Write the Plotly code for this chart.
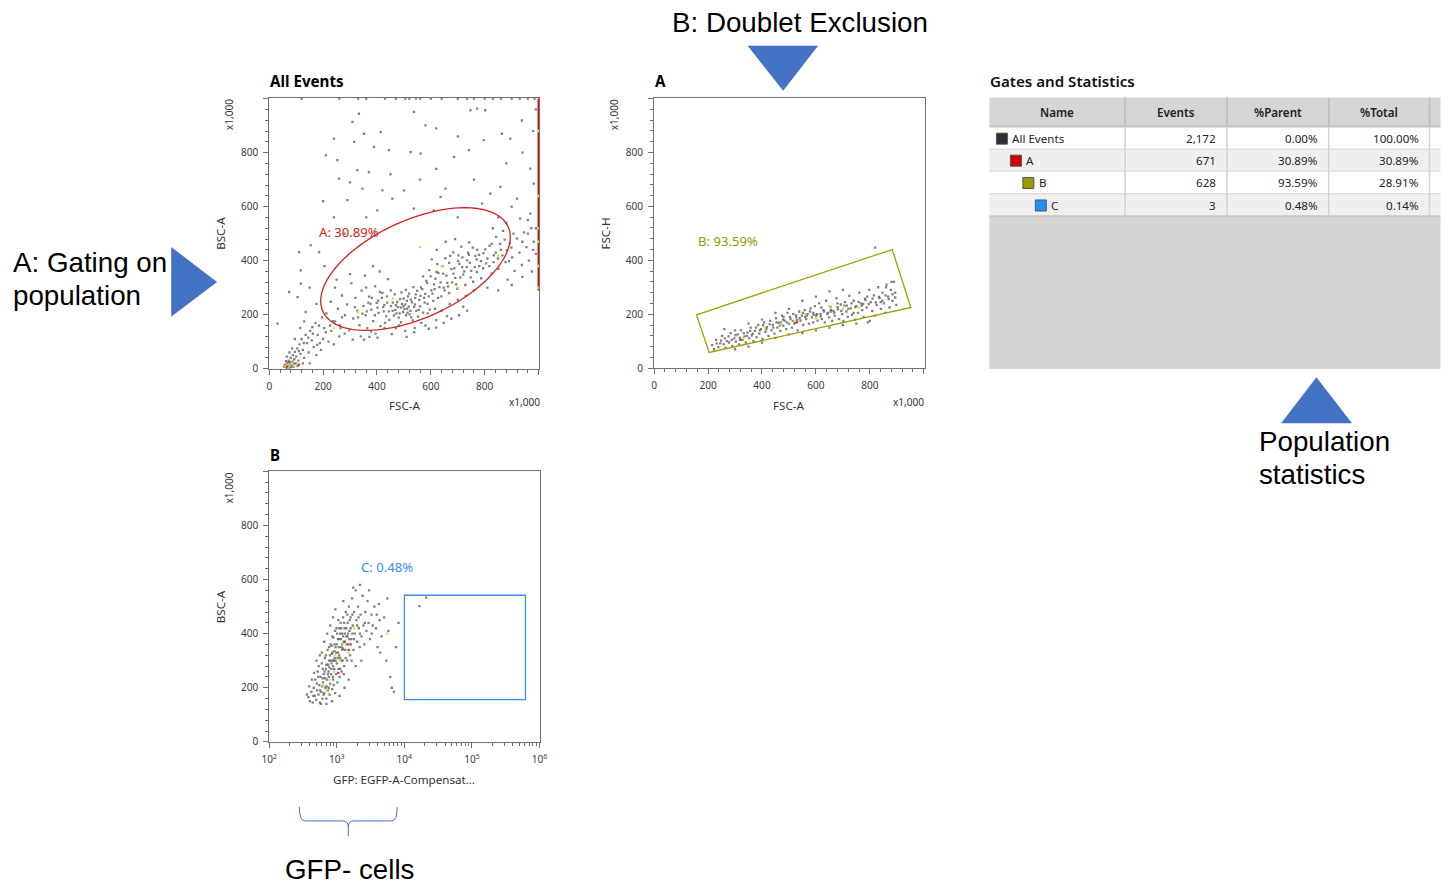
import math
import plotly.graph_objects as go

# ---------------- DATA ----------------
# All Events: FSC-A vs BSC-A (x1,000)
all_events_pts = [
    # origin debris cluster / trail
    (55,8),(60,15),(63,5),(68,22),(70,10),(72,30),(75,3),(78,18),(80,40),(83,12),(86,26),(88,50),
    (90,8),(93,35),(95,62),(98,20),(100,45),(104,75),(108,30),(112,90),(116,55),(120,110),(125,70),
    (130,40),(135,125),(140,95),(146,60),(152,140),(158,105),(165,80),(172,170),(180,125),(188,95),
    (196,190),(204,150),(150,20),(175,50),(200,110),(220,100),(240,90),(260,120),(125,20),(105,10),
    (65,45),(85,75),(115,150),(95,110),(130,175),(75,60),(62,28),(58,12),(66,3),(82,6),(92,18),
    (110,65),(128,95),(145,115),(162,130),(178,88),(192,70),(210,135),(226,160),(245,175),(265,150),
    # main cloud centre
    (452,232),(468,218),(475,247),(489,226),(497,210),(505,238),(512,222),(521,201),(530,246),(538,229),
    (546,214),(557,255),(463,197),(481,189),(499,260),(515,268),(527,190),(544,275),(560,231),(571,208),
    (438,245),(425,212),(446,181),(489,172),(508,198),(533,179),(552,193),(575,262),(588,240),(596,219),
    (470,235),(484,205),(493,240),(502,221),(518,230),(524,214),(541,238),(458,214),(478,228),(511,251),
    (362,212),(368,245),(381,262),(392,198),(404,252),(411,284),(423,228),(437,268),(444,212),(451,290),
    (459,245),(466,275),(472,205),(486,258),(491,283),(498,232),(507,292),(513,208),(519,278),(526,256),
    (535,302),(542,262),(549,288),(555,218),(562,270),(568,295),(577,245),(583,325),(592,268),(599,342),
    (606,278),(614,295),(621,358),(627,262),(636,320),(643,380),(651,290),(658,345),(664,305),(672,418),
    (679,320),(687,372),(694,312),(701,398),(709,338),(717,412),(724,360),(733,376),(741,422),(748,338),
    (756,448),(763,376),(771,358),(779,422),(786,398),(794,372),(802,442),(810,408),(817,380),(826,462),
    (833,395),(841,430),(849,408),(857,462),(866,420),(874,478),(882,438),(890,398),(899,448),(907,500),
    (352,108),(378,138),(402,115),(428,150),(455,128),(482,160),(510,118),(538,135),(565,170),(592,148),
    (620,152),(648,170),(676,185),(705,198),(735,215),
    # left part of cloud
    (212,205),(228,248),(236,176),(244,300),(255,222),(262,160),(270,271),(281,198),(289,238),(297,142),
    (305,316),(312,186),(320,262),(327,215),(335,161),(343,289),(350,232),(358,198),(364,150),(371,267),
    (379,219),(386,176),(393,305),(399,244),(406,207),(413,158),(420,281),(427,236),(434,194),(441,332),
    (395,130),(372,118),(340,120),(310,108),(280,130),(355,345),(300,350),(250,330),(230,140),(410,360),
    (385,380),(430,170),(360,300),(330,190),(270,190),(318,228),(346,204),(376,240),(402,226),(418,262),
    # mid-right part of cloud
    (563,301),(571,342),(579,277),(586,318),(594,365),(602,290),(609,251),(617,333),(624,387),(632,302),
    (639,268),(646,352),(654,409),(661,318),(668,280),(676,369),(683,431),(691,336),(698,296),(706,388),
    (713,452),(720,348),(728,310),(735,401),(742,468),(750,362),(757,322),(765,418),(772,440),(780,380),
    (787,335),(795,428),(603,405),(622,440),(655,470),(690,480),(588,205),(615,222),(640,215),(670,240),
    (700,255),(730,270),(760,290),(660,195),(620,180),(580,160),(540,150),(505,140),(470,150),(720,230),
    (612,312),(648,300),(684,352),(716,376),(745,392),(628,355),(668,392),(702,420),(738,430),(770,405),
    # right, beyond the gate
    (805,390),(818,455),(826,352),(834,420),(842,488),(851,370),(860,440),(868,510),(877,395),(885,330),
    (893,465),(902,412),(911,362),(920,482),(929,430),(938,384),(946,505),(955,450),(964,400),(973,520),
    (982,470),(990,425),(810,300),(850,290),(900,310),(940,340),(975,360),(880,540),(830,520),(960,550),
    # sparse upper region
    (309,914),(333,944),(352,870),(414,876),(240,852),(253,772),(315,840),(389,821),(327,735),(210,790),
    (444,809),(525,802),(537,951),(562,796),(580,901),(686,784),(741,809),(747,957),(772,963),(796,846),
    (802,957),(864,870),(895,852),(938,919),(969,741),(982,685),(259,704),(370,728),(346,667),(290,624),
    (401,586),(457,630),(500,660),(537,593),(611,586),(636,636),(654,667),(790,611),(821,648),(858,673),
    (920,630),(932,556),(969,574),(154,457),(117,364),(185,432),(111,432),(74,284),(105,265),(117,315),
    (160,154),(185,160),(31,167),(620,890),(700,860),(450,720),(560,700),(880,760),(940,800),(980,880),
    (990,960),(850,560),(900,600),(700,560),(760,700),(420,660),(620,740),(300,690),(200,620),(240,560),
    (280,500),(360,560),(960,500),(990,520),(940,470),(980,440),(150,300),(175,240),(135,210),(205,380),
]
all_events_green = [(330,210),(460,260),(640,380),(560,450),(700,300),(80,20),(70,5),(90,12),(240,150),(850,420),(60,10)]
all_events_red = [(75,25),(110,15),(66,8)]
top_edge_fsc = [120, 260, 330, 360, 430, 470, 505, 520, 545, 560, 600, 640, 700, 735, 760, 800, 830, 860, 900, 930, 960, 985]
saturated_bsc = [290, 300, 335, 360, 395, 420, 455, 500, 540, 575, 610, 650, 700, 740, 780, 830, 870, 910, 950, 1000]
saturated_green = [300, 380, 470, 520, 640, 880]

# Gate A (ellipse on All Events)
gateA = dict(cx=543, cy=369, ux=352, uy=118, vy=194)
gateA_label = "A: 30.89%"

# A: FSC-A vs FSC-H (x1,000)
a_pts = [
    (215,85),(222,70),(230,105),(238,78),(245,92),(252,120),(258,88),(265,75),(270,100),(278,95),(284,130),
    (290,82),(297,110),(303,98),(310,125),(315,88),(322,140),(328,105),(335,118),(340,95),(346,132),(352,110),
    (358,150),(362,122),(368,100),(374,138),(380,115),(386,160),(390,128),(396,145),(402,108),(408,170),
    (413,135),(418,152),(424,120),(430,175),(435,140),(440,160),(446,128),(452,185),(457,150),(462,168),
    (468,138),(474,195),(479,158),(484,176),(490,145),(495,205),(500,165),(506,182),(511,150),(516,200),
    (522,170),(527,188),(532,140),(538,210),(543,176),(548,195),(553,160),(559,215),(564,182),(569,200),
    (574,165),(580,222),(585,188),(590,170),(596,230),(601,195),(606,176),(612,240),(617,200),(622,182),
    (628,215),(633,170),(638,250),(644,205),(649,188),(654,228),(660,175),(665,212),(670,195),(676,260),
    (681,218),(686,182),(692,236),(697,200),(702,175),(708,245),(713,210),(718,190),(724,268),(729,222),
    (734,198),(740,250),(745,180),(750,230),(756,205),(761,280),(766,240),(772,215),(777,190),(782,258),
    (788,225),(793,170),(798,290),(804,245),(809,212),(815,270),(820,195),(825,235),(831,300),(836,260),
    (841,220),(847,280),(852,240),(857,205),(862,310),(868,265),(873,225),(878,290),(884,250),(889,320),
    (894,280),(898,235),(880,320),(860,300),(820,447),(700,290),(650,285),(600,265),(550,250),(500,220),
    (450,205),(400,180),(350,165),(300,140),(260,145),(600,140),(650,150),(700,160),(750,165),(800,175),
    (550,130),(500,125),(450,112),(400,95),(350,80),(300,70),(480,190),(520,165),(560,190),(620,225),
    (680,240),(740,205),(790,265),(840,245),(470,170),(530,178),(590,205),(655,210),(715,232),(775,238),
    (232,92),(248,102),(262,110),(276,118),(288,105),(302,122),(318,112),(332,130),(344,120),(356,138),
    (366,128),(378,150),(392,140),(404,160),(416,145),(428,162),(442,150),(454,170),(466,158),(478,180),
    (492,170),(504,190),(514,175),(526,196),(540,185),(552,205),(566,195),(578,210),(592,198),(604,200),
    (618,192),(630,210),(642,200),(656,216),(668,206),(680,226),(694,212),(706,232),(720,220),(732,240),
    (746,226),(758,246),(770,232),(784,252),(796,238),(810,258),(822,244),(834,264),(846,250),(858,270),
    (870,256),(884,274),(894,262),
]
a_green = [(330,110),(410,150),(520,175),(560,200),(600,185),(650,230),(700,220),(760,225),(470,160)]
a_red = [(320,105),(530,170)]

gateB_x = [157, 883, 952, 204]
gateB_y = [198, 440, 225, 58]
gateB_label = "B: 93.59%"

# B: GFP (log) vs BSC-A (x1,000)
b_pts = [
    (380,165),(400,150),(420,185),(440,145),(455,200),(470,170),(480,230),(495,155),(510,190),(520,260),
    (535,175),(550,210),(560,145),(575,240),(590,185),(600,290),(615,160),(625,220),(640,250),(650,180),
    (665,310),(680,200),(690,270),(700,160),(715,230),(730,340),(740,190),(755,260),(770,300),(780,175),
    (795,215),(810,360),(820,250),(835,290),(850,195),(860,330),(875,240),(890,385),(900,210),(915,270),
    (930,310),(945,180),(960,350),(975,250),(990,420),(1000,290),(1020,220),(1040,330),(1060,270),(1080,380),
    (1100,240),(1120,310),(1140,440),(1160,350),(1180,260),(1200,400),(1220,300),(1240,460),(1260,370),
    (1280,280),(1300,420),(1330,340),(1360,480),(1390,390),(1420,300),(1450,440),(1480,360),(1510,500),
    (1540,410),(1570,320),(1600,460),(1640,380),(1680,530),(1720,430),(1760,340),(1800,480),(1850,400),
    (1900,560),(1950,450),(2000,370),(2060,500),(2120,420),(2180,350),(2250,470),(2320,390),(2400,540),
    (2480,430),(2560,360),(2650,480),(2750,410),(2850,520),(2950,440),(3100,380),(3250,470),(3400,430),
    (3600,500),(3800,420),(4000,350),(4300,450),(4600,390),(5000,460),(5400,300),(5800,410),(6200,240),
    (6500,200),(7000,185),(7500,350),(8200,440),(5600,530),(4200,510),(3000,560),(2200,580),(1750,570),
    (600,330),(650,370),(720,400),(800,430),(880,460),(950,490),(540,280),(460,255),(850,150),(1100,170),
    (1300,200),(1500,230),(700,140),(580,140),(1050,450),(1250,520),(1400,360),(1650,300),(1900,280),
    (2300,300),(760,240),(830,270),(900,300),(980,330),(1070,350),(1150,380),(1230,345),(1320,400),
    (360,175),(390,205),(430,230),(450,170),(505,215),(530,240),(565,190),(610,205),(635,175),(670,235),
    (705,205),(745,285),(790,320),(840,355),(870,300),(925,360),(1010,400),(1090,420),(1170,300),(1210,340),
    (1350,310),(1440,390),(1550,450),(1700,400),(2100,460),(2600,440),(3300,400),(4400,330),(3900,470),
    (500,300),(560,320),(620,270),(690,320),(770,350),(860,390),(940,410),(1030,310),(1120,270),(1270,250),
    (620,235),(660,260),(700,285),(735,250),(770,275),(810,300),(850,325),(880,280),(920,335),(960,300),
    (1000,360),(1040,380),(1080,320),(1120,400),(1160,420),(1200,360),(1240,390),(1280,440),(1320,370),
    (1380,420),(1430,470),(1470,400),(1530,380),(1600,420),(1700,470),(1800,380),(2000,430),(2200,400),
    (760,200),(880,230),
    (16700,502),(21000,533),
]
b_green = [(700,190),(780,230),(900,260),(1100,300),(1250,360),(1500,330),(1800,420),(5600,400),(620,210),(950,320)]
b_red = [(1050,255),(1500,340),(1600,360)]

gateC_x = [10000, 620000]
gateC_y = [156, 542]
gateC_label = "C: 0.48%"

# Statistics table
stat_names = ["All Events", "A", "B", "C"]
stat_events = ["2,172", "671", "628", "3"]
stat_parent = ["0.00%", "30.89%", "93.59%", "0.48%"]
stat_total = ["100.00%", "30.89%", "28.91%", "0.14%"]
stat_colors = ["#2b2d38", "#d00000", "#999900", "#1e8fff"]
stat_headers = ["Name", "Events", "%Parent", "%Total"]

# ---------------- LAYOUT HELPERS ----------------
# The photographed page is a little taller than the 1448x884 picture and gets fitted into it
# (uniform scale S, centred horizontally), so positions are given in picture pixels and mapped back.
W, H = 1448, 892
S = 884 / H
OX = (1448 - 1448 * S) / 2
def fx(px): return ((px - OX) / S) / W
def fy(py): return 1 - (py / S) / H
def fs(v): return v / S

BLUE = "#4472c4"
DOT = "rgba(80,80,80,0.72)"
GREEN = "#c6ec3a"
TICKF = dict(family="Noto Sans", size=fs(10), color="#3c3c3c")

fig = go.Figure()

def add_pts(pts, xa, ya, color, size=2.3):
    fig.add_trace(go.Scatter(x=[p[0] for p in pts], y=[p[1] for p in pts], mode="markers",
                             xaxis=xa, yaxis=ya, hoverinfo="skip",
                             marker=dict(size=size, color=color, symbol="square", line=dict(width=0))))

# All Events
add_pts(all_events_pts, "x", "y", DOT)
add_pts([(x, 1000) for x in top_edge_fsc], "x", "y", DOT)
fig.add_trace(go.Scatter(x=[1000]*len(saturated_bsc), y=saturated_bsc, mode="lines", xaxis="x", yaxis="y",
                         line=dict(color="#e00000", width=2), hoverinfo="skip"))
add_pts([(999, v) for v in saturated_green], "x", "y", GREEN, 2.6)
add_pts(all_events_green, "x", "y", GREEN)
add_pts(all_events_red, "x", "y", "#e03030")
# A
add_pts(a_pts, "x2", "y2", DOT)
add_pts(a_green, "x2", "y2", GREEN)
add_pts(a_red, "x2", "y2", "#e03030")
# B
add_pts(b_pts, "x3", "y3", DOT)
add_pts(b_green, "x3", "y3", GREEN)
add_pts(b_red, "x3", "y3", "#e03030")

def axis(dom_px, rng, tickvals, ticktext, horizontal, typ="linear", minor_vals=None):
    if horizontal:
        dom = [fx(dom_px[0]), fx(dom_px[1])]
    else:
        dom = [fy(dom_px[1]), fy(dom_px[0])]
    d = dict(domain=dom, range=rng, type=typ, showgrid=False, zeroline=False, showline=True, mirror=True,
             linecolor="#707070", linewidth=1, ticks="outside", ticklen=5, tickcolor="#707070",
             tickmode="array", tickvals=tickvals, ticktext=ticktext, tickfont=TICKF, fixedrange=True,
             ticklabelstandoff=3)
    if minor_vals is not None:
        d["minor"] = dict(ticks="outside", ticklen=3, tickcolor="#707070", tickmode="array",
                          tickvals=minor_vals, showgrid=False)
    else:
        d["minor"] = dict(ticks="outside", ticklen=3, tickcolor="#707070", tickmode="linear",
                          tick0=0, dtick=40, showgrid=False)
    return d

lin_vals = [0, 200, 400, 600, 800, 1000]
lin_text = ["0", "200", "400", "600", "800", ""]
log_vals = [1e2, 1e3, 1e4, 1e5, 1e6]
log_text = ["10<sup>2</sup>", "10<sup>3</sup>", "10<sup>4</sup>", "10<sup>5</sup>", "10<sup>6</sup>"]
log_minor = [m * 10 ** e for e in range(2, 6) for m in range(2, 10)]

fig.update_layout(
    xaxis=dict(axis([268.3, 539], [0, 1003], lin_vals, lin_text, True), anchor="y"),
    yaxis=dict(axis([97.7, 368.3], [0, 1003], lin_vals, lin_text, False), anchor="x"),
    xaxis2=dict(axis([654, 925], [0, 1003], lin_vals, lin_text, True), anchor="y2"),
    yaxis2=dict(axis([97.7, 367.7], [0, 1003], lin_vals, lin_text, False), anchor="x2"),
    xaxis3=dict(axis([268.3, 539.3], [2, 6.003], log_vals, log_text, True, "log", log_minor), anchor="y3"),
    yaxis3=dict(axis([470, 741], [0, 1003], lin_vals, lin_text, False), anchor="x3"),
)

shapes = []
# Gate A ellipse
pts = []
for i in range(121):
    t = 2 * math.pi * i / 120
    x = gateA["cx"] + gateA["ux"] * math.cos(t)
    y = gateA["cy"] + gateA["uy"] * math.cos(t) + gateA["vy"] * math.sin(t)
    pts.append(f"{x:.2f},{y:.2f}")
shapes.append(dict(type="path", xref="x", yref="y", path="M" + " L".join(pts) + " Z",
                   line=dict(color="#d42020", width=1.3)))
# Gate B polygon
shapes.append(dict(type="path", xref="x2", yref="y2",
                   path="M" + " L".join(f"{a},{b}" for a, b in zip(gateB_x, gateB_y)) + " Z",
                   line=dict(color="#a0a000", width=1.3)))
# Gate C rectangle
shapes.append(dict(type="rect", xref="x3", yref="y3", x0=gateC_x[0], x1=gateC_x[1], y0=gateC_y[0], y1=gateC_y[1],
                   line=dict(color="#3a8ef0", width=1.3)))

def ppath(cmds):
    out = []
    for c in cmds:
        if isinstance(c, str):
            out.append(c)
        else:
            out.append(f"{fx(c[0]):.5f},{fy(c[1]):.5f}")
    return " ".join(out)

# arrows / triangles
for tri in [[(747.7, 45.7), (818.3, 45.7), (783.3, 90.7)],
            [(170, 246.7), (170, 316.5), (216, 281.7)],
            [(1317.7, 376.7), (1282.3, 422.7), (1353.3, 422.7)]]:
    shapes.append(dict(type="path", xref="paper", yref="paper",
                       path=ppath(["M", tri[0], "L", tri[1], "L", tri[2], "Z"]),
                       fillcolor=BLUE, line=dict(width=0)))
# bracket
shapes.append(dict(type="path", xref="paper", yref="paper",
                   path=ppath(["M", (298.5, 806), "Q", (298.5, 820), (304, 820), "L", (342, 820),
                               "Q", (347.5, 820), (347.5, 826), "L", (347.5, 835),
                               "M", (347.5, 826), "Q", (347.5, 820), (353, 820), "L", (391, 820),
                               "Q", (396.5, 820), (396.5, 806)]),
                   line=dict(color=BLUE, width=1)))

# ---------------- TABLE ----------------
def prect(x0, y0, x1, y1, fill, lw=0, lc=None):
    d = dict(type="rect", xref="paper", yref="paper", x0=fx(x0), x1=fx(x1), y0=fy(y1), y1=fy(y0),
             fillcolor=fill, line=dict(width=lw, color=lc or fill), layer="below")
    return d
def pline(x0, y0, x1, y1, color, w=1):
    return dict(type="line", xref="paper", yref="paper", x0=fx(x0), x1=fx(x1), y0=fy(y0), y1=fy(y1),
                line=dict(color=color, width=w), layer="above")

T_L, T_R = 990, 1442
col_x = [990, 1126, 1228, 1330, 1431]
row_y = [127, 149, 171, 193.5, 216]
shapes.append(prect(T_L, 97.5, T_R, 126, "#d5d5d5"))
for i in range(4):
    shapes.append(prect(T_L, row_y[i], T_R, row_y[i + 1], "#ffffff" if i % 2 == 0 else "#efefef"))
shapes.append(prect(T_L, 216, T_R, 368.5, "#d4d4d4"))
shapes.append(pline(T_L, 126.3, T_R, 126.3, "#c2c2c2", 2))
for yy in row_y[1:4]:
    shapes.append(pline(T_L, yy, T_R, yy, "#d2d2d2", 1))
shapes.append(pline(T_L, 216, T_R, 216, "#c6c6c6", 2))
for xx in col_x[1:]:
    shapes.append(pline(xx, 97.5, xx, 125.3, "#bcbcbc", 1.5))
    shapes.append(pline(xx, 127.3, xx, 215, "#d2d2d2", 1.5))

annots = []
def ann(text, px, py, size, xanchor="left", yanchor="middle", family="Noto Sans", color="#1a1a1a",
        weight=None, angle=0):
    f = dict(family=family, size=fs(size), color=color)
    if weight:
        f["weight"] = weight
    annots.append(dict(text=text, x=fx(px), y=fy(py), xref="paper", yref="paper", showarrow=False,
                       xanchor=xanchor, yanchor=yanchor, font=f, textangle=angle, borderpad=0))

hdr_cx = [(col_x[i] + col_x[i + 1]) / 2 for i in range(4)]
for h, cx in zip(stat_headers, hdr_cx):
    ann(h, cx, 112, 11.5, "center", weight=600, color="#222")
name_indent = [997, 1011, 1023.5, 1036]
for i in range(4):
    cy = (row_y[i] + row_y[i + 1]) / 2 + 0.5
    sx = name_indent[i]
    shapes.append(dict(type="rect", xref="paper", yref="paper", x0=fx(sx), x1=fx(sx + 11),
                       y0=fy(cy + 5.5), y1=fy(cy - 5.5), fillcolor=stat_colors[i],
                       line=dict(color="#555", width=1), layer="above"))
    ann(stat_names[i], sx + 15, cy, 11.5, "left", color="#222")
    ann(stat_events[i], 1218.5, cy, 11.5, "right", color="#222")
    ann(stat_parent[i], 1320, cy, 11.5, "right", color="#222")
    ann(stat_total[i], 1421.5, cy, 11.5, "right", color="#222")

ann("Gates and Statistics", 990, 81, 15, "left", weight=600, color="#111")

# plot titles
ann("All Events", 268, 81, 15, "left", weight="bold", color="#000")
ann("A", 654, 81, 15, "left", weight="bold", color="#000")
ann("B", 268, 454, 15, "left", weight="bold", color="#000")

# axis titles
AX = "#333"
ann("BSC-A", 219.5, 233, 11.5, "center", color=AX, angle=-90)
ann("x1,000", 228, 115, 10, "center", color=AX, angle=-90)
ann("FSC-A", 403.5, 405, 11.5, "center", color=AX)
ann("x1,000", 524, 401.5, 10, "center", color=AX)

ann("FSC-H", 605, 233, 11.5, "center", color=AX, angle=-90)
ann("x1,000", 614, 115, 10, "center", color=AX, angle=-90)
ann("FSC-A", 789, 405, 11.5, "center", color=AX)
ann("x1,000", 909, 401.5, 10, "center", color=AX)

ann("BSC-A", 219.5, 606, 11.5, "center", color=AX, angle=-90)
ann("x1,000", 228, 488, 10, "center", color=AX, angle=-90)
ann("GFP: EGFP-A-Compensat...", 403.5, 779, 11.5, "center", color=AX)

# gate labels (data coords)
annots.append(dict(text=gateA_label, x=177, y=508, xref="x", yref="y", showarrow=False, xanchor="left",
                   yanchor="middle", font=dict(family="Noto Sans", size=fs(13), color="#d42020")))
annots.append(dict(text=gateB_label, x=157, y=473, xref="x2", yref="y2", showarrow=False, xanchor="left",
                   yanchor="middle", font=dict(family="Noto Sans", size=fs(13), color="#9a9a00")))
annots.append(dict(text=gateC_label, x=math.log10(2100), y=646, xref="x3", yref="y3", showarrow=False,
                   xanchor="left", yanchor="middle", font=dict(family="Noto Sans", size=fs(13), color="#3a8ef0")))

# big callout labels
BF = "Liberation Sans"
ann("B: Doublet Exclusion", 800.5, 22, 27.5, "center", family=BF, color="#000")
ann("A: Gating on", 10.5, 262, 27.5, "left", family=BF, color="#000")
ann("population", 10.5, 295, 27.5, "left", family=BF, color="#000")
ann("Population", 1259.5, 441, 27.5, "left", family=BF, color="#000")
ann("statistics", 1259.5, 474, 27.5, "left", family=BF, color="#000")
ann("GFP- cells", 283, 869, 27.5, "left", family=BF, color="#000")

fig.update_layout(width=W, height=H, autosize=False, margin=dict(l=0, r=0, t=0, b=0, pad=0),
                  paper_bgcolor="white", plot_bgcolor="white", showlegend=False,
                  shapes=shapes, annotations=annots)

POST = ("var de=document.documentElement,b=document.body;"
        "de.style.margin='0';de.style.padding='0';de.style.overflow='hidden';"
        "b.style.margin='0';b.style.padding='0';b.style.overflow='hidden';"
        "var g=document.getElementById('{plot_id}');g.style.position='fixed';g.style.left='0px';g.style.top='0px';")
fig.write_html("out.html", post_script=POST, config={"displayModeBar": False})
